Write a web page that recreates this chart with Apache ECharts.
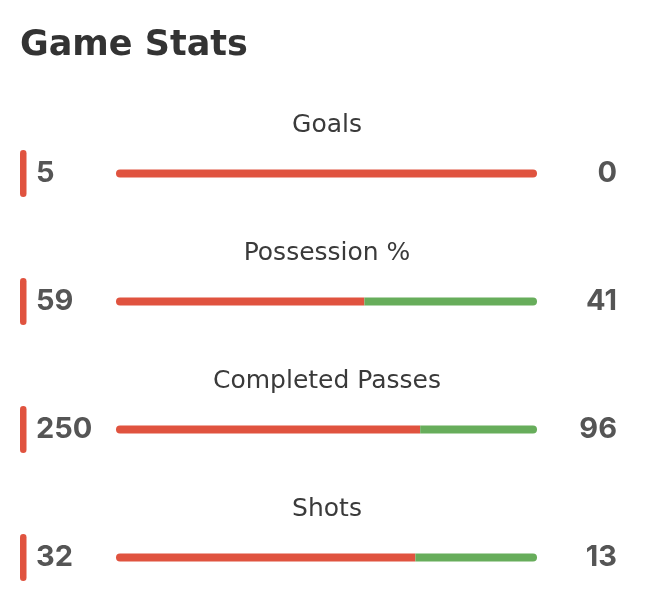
<!DOCTYPE html>
<html>
<head>
<meta charset="utf-8">
<script src="https://cdn.jsdelivr.net/npm/echarts@6/dist/echarts.min.js"></script>
<style>
html,body{margin:0;padding:0;background:#fff;}
#chart{width:652px;height:604px;}
</style>
</head>
<body>
<div id="chart"></div>
<script>
const titleText = 'Game Stats';
const categories = ['Goals', 'Possession %', 'Completed Passes', 'Shots'];
const homeValues = [5, 59, 250, 32];
const awayValues = [0, 41, 96, 13];

const RED = '#E0533F';
const GREEN = '#67AD5B';
const FONT = 'Inter, "Noto Sans", sans-serif';
const WIDE = '"DejaVu Sans", sans-serif';

const rowGap = 128;
const firstBarY = 173.5;
const barH = 8;

const grids = [], xAxes = [], yAxes = [], series = [], graphics = [];

graphics.push({
  type: 'text', x: 20, y: 45.5,
  style: { text: titleText, font: 'bold 35px ' + WIDE, fill: '#333333', textAlign: 'left', textVerticalAlign: 'middle' }
});

categories.forEach((cat, i) => {
  const cy = firstBarY + i * rowGap;
  const h = homeValues[i], a = awayValues[i];
  grids.push({ left: 116, right: 115, top: cy - barH / 2, height: barH });
  xAxes.push({ gridIndex: i, type: 'value', min: 0, max: h + a, show: false });
  yAxes.push({ gridIndex: i, type: 'category', data: [cat], show: false });
  series.push({
    type: 'bar', xAxisIndex: i, yAxisIndex: i, stack: 's' + i, barWidth: barH,
    silent: true,
    data: [{ value: h, itemStyle: { color: RED, borderRadius: a === 0 ? 4 : [4, 0, 0, 4] } }]
  });
  series.push({
    type: 'bar', xAxisIndex: i, yAxisIndex: i, stack: 's' + i, barWidth: barH,
    silent: true,
    data: [{ value: a, itemStyle: { color: GREEN, borderRadius: h === 0 ? 4 : [0, 4, 4, 0] } }]
  });
  graphics.push({
    type: 'text', x: 327, y: cy - 48.5,
    style: { text: cat, font: '25px ' + WIDE, fill: '#3a3a3a', textAlign: 'center', textVerticalAlign: 'middle' }
  });
  graphics.push({
    type: 'rect', shape: { x: 20, y: cy - 23.5, width: 6.5, height: 47, r: 3.25 },
    style: { fill: RED }
  });
  graphics.push({
    type: 'text', x: 36, y: cy,
    style: { text: String(h), font: 'bold 29px ' + FONT, fill: '#555555', textAlign: 'left', textVerticalAlign: 'middle' }
  });
  graphics.push({
    type: 'text', x: 617, y: cy,
    style: { text: String(a), font: 'bold 29px ' + FONT, fill: '#555555', textAlign: 'right', textVerticalAlign: 'middle' }
  });
});

const chart = echarts.init(document.getElementById('chart'));
chart.setOption({
  animation: false,
  backgroundColor: '#ffffff',
  grid: grids,
  xAxis: xAxes,
  yAxis: yAxes,
  series: series,
  graphic: graphics
});
</script>
</body>
</html>
